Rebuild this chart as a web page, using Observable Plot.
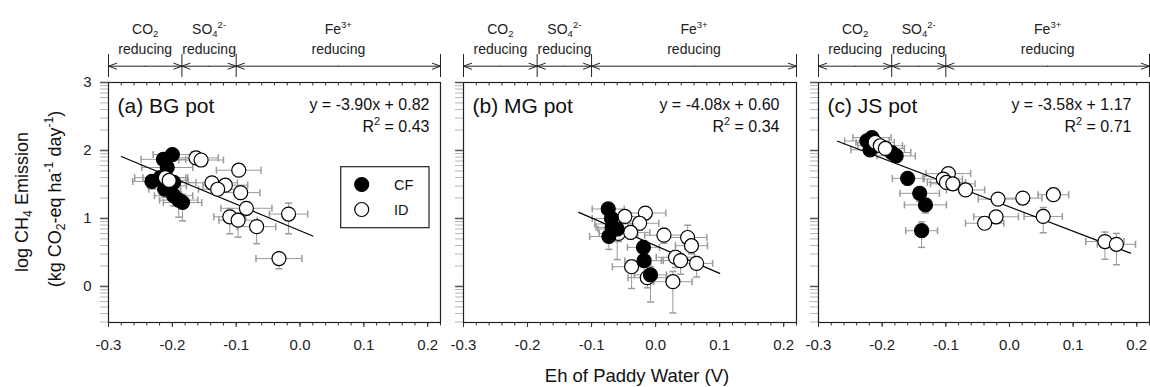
<!DOCTYPE html>
<html><head><meta charset="utf-8">
<script src="https://cdn.jsdelivr.net/npm/d3@7"></script>
<script src="https://cdn.jsdelivr.net/npm/@observablehq/plot@0.6"></script>
<style>
html,body{margin:0;padding:0;background:#fff;}
#chart{position:relative;width:1150px;height:387px;font-family:"Liberation Sans",Arial,sans-serif;}
#chart svg{position:absolute;top:0;overflow:visible;}
</style></head><body><div id="chart"></div>
<script>
// ---------- data ----------
const xTicks = [-0.3, -0.2, -0.1, 0, 0.1, 0.2];
const yTicks = [0, 1, 2, 3];
const xDomain = [-0.3, 0.22];
const yDomain = [-0.53, 3];
const zoneBounds = [-0.3, -0.185, -0.1, 0.22];
const zoneNames = ["CO_{2}", "SO_{4}^{2-}", "Fe^{3+}"];
const zoneSub = "reducing";
const panelLabels = ["(a) BG pot", "(b) MG pot", "(c) JS pot"];
const fitSlopes = [-3.90, -4.08, -3.58];
const fitIntercepts = [0.82, 0.60, 1.17];
const fitR2 = [0.43, 0.34, 0.71];
const fitXStart = [-0.28, -0.12, -0.27];
const fitXEnd = [0.02, 0.10, 0.19];
const legendNames = ["CF", "ID"];
const xTitle = "Eh of Paddy Water (V)";
const yTitle1 = "log CH_{4} Emission";
const yTitle2 = "(kg CO_{2}-eq ha^{-1} day^{-1})";

// [Eh, logCH4, Eh error, upper error, lower error]
const bgCF = [
  [-0.200, 1.94, 0.030, 0.05, 0.07],
  [-0.214, 1.87, 0.035, 0.06, 0.08],
  [-0.208, 1.75, 0.040, 0.08, 0.10],
  [-0.219, 1.60, 0.040, 0.08, 0.10],
  [-0.232, 1.545, 0.030, 0.08, 0.10],
  [-0.198, 1.53, 0.035, 0.08, 0.10],
  [-0.208, 1.48, 0.030, 0.10, 0.12],
  [-0.212, 1.43, 0.025, 0.08, 0.12],
  [-0.198, 1.335, 0.030, 0.10, 0.15],
  [-0.190, 1.27, 0.030, 0.12, 0.25],
  [-0.184, 1.235, 0.030, 0.12, 0.27]
];
const bgID = [
  [-0.211, 1.60, 0.035, 0.08, 0.10],
  [-0.205, 1.56, 0.030, 0.08, 0.10],
  [-0.163, 1.89, 0.035, 0.05, 0.06],
  [-0.155, 1.86, 0.035, 0.05, 0.06],
  [-0.096, 1.71, 0.035, 0.07, 0.09],
  [-0.138, 1.525, 0.040, 0.08, 0.09],
  [-0.117, 1.49, 0.035, 0.07, 0.08],
  [-0.129, 1.43, 0.030, 0.06, 0.08],
  [-0.093, 1.38, 0.030, 0.07, 0.10],
  [-0.084, 1.15, 0.040, 0.08, 0.10],
  [-0.018, 1.065, 0.030, 0.16, 0.29],
  [-0.110, 1.025, 0.025, 0.12, 0.25],
  [-0.097, 0.975, 0.030, 0.10, 0.25],
  [-0.068, 0.88, 0.030, 0.08, 0.25],
  [-0.033, 0.41, 0.036, 0.05, 0.15]
];
const mgCF = [
  [-0.074, 1.14, 0.025, 0.06, 0.10],
  [-0.069, 1.00, 0.030, 0.08, 0.12],
  [-0.068, 0.87, 0.025, 0.08, 0.12],
  [-0.060, 0.845, 0.030, 0.10, 0.45],
  [-0.073, 0.735, 0.030, 0.10, 0.19],
  [-0.019, 0.575, 0.025, 0.10, 0.20],
  [-0.018, 0.38, 0.030, 0.12, 0.25],
  [-0.008, 0.17, 0.025, 0.12, 0.40]
];
const mgID = [
  [-0.065, 0.92, 0.030, 0.08, 0.12],
  [-0.058, 0.78, 0.030, 0.08, 0.12],
  [-0.048, 1.03, 0.030, 0.06, 0.10],
  [-0.016, 1.08, 0.032, 0.08, 0.10],
  [-0.025, 0.93, 0.030, 0.08, 0.10],
  [-0.039, 0.795, 0.030, 0.08, 0.10],
  [0.013, 0.755, 0.030, 0.10, 0.12],
  [0.050, 0.72, 0.030, 0.18, 0.12],
  [0.056, 0.60, 0.025, 0.10, 0.12],
  [0.031, 0.43, 0.030, 0.10, 0.15],
  [0.039, 0.38, 0.030, 0.10, 0.20],
  [0.064, 0.34, 0.025, 0.10, 0.20],
  [-0.0375, 0.29, 0.030, 0.10, 0.32],
  [0.027, 0.07, 0.030, 0.15, 0.46],
  [-0.013, 0.13, 0.030, 0.08, 0.15]
];
const jsCF = [
  [-0.216, 2.19, 0.030, 0.05, 0.06],
  [-0.224, 2.14, 0.035, 0.05, 0.07],
  [-0.219, 2.01, 0.030, 0.06, 0.08],
  [-0.185, 1.97, 0.030, 0.05, 0.07],
  [-0.178, 1.92, 0.030, 0.06, 0.08],
  [-0.160, 1.59, 0.024, 0.06, 0.10],
  [-0.141, 1.37, 0.031, 0.08, 0.12],
  [-0.132, 1.20, 0.033, 0.08, 0.12],
  [-0.138, 0.82, 0.025, 0.13, 0.245]
];
const jsID = [
  [-0.211, 2.12, 0.030, 0.05, 0.07],
  [-0.203, 2.07, 0.035, 0.05, 0.07],
  [-0.195, 2.03, 0.030, 0.05, 0.07],
  [-0.096, 1.66, 0.035, 0.06, 0.08],
  [-0.104, 1.58, 0.030, 0.07, 0.09],
  [-0.099, 1.53, 0.030, 0.07, 0.09],
  [-0.089, 1.51, 0.035, 0.07, 0.09],
  [-0.069, 1.42, 0.030, 0.06, 0.08],
  [-0.018, 1.285, 0.031, 0.07, 0.09],
  [0.021, 1.30, 0.030, 0.06, 0.08],
  [-0.021, 1.025, 0.035, 0.07, 0.10],
  [-0.039, 0.93, 0.030, 0.06, 0.08],
  [0.069, 1.35, 0.024, 0.05, 0.06],
  [0.053, 1.03, 0.030, 0.13, 0.24],
  [0.150, 0.66, 0.030, 0.14, 0.26],
  [0.168, 0.62, 0.030, 0.16, 0.30]
];
const panelData = [[bgCF, bgID], [mgCF, mgID], [jsCF, jsID]];

// ---------- layout ----------
const FONT = '"Liberation Sans", Arial, sans-serif';
const H = 387, MT = 82, MB = 65, innerH = H - MT - MB;
const PW = [450, 355, 345], PL = [0, 450, 805], PML = [108, 13, 13], PMR = [10, 9, 1];
const eqDx = [-11, -17, -18];
const ERR = "#9a9a9a";

const xMinor = d3.range(0, 27).map(i => +(-0.3 + i * 0.02).toFixed(2));
const yMinor = [];
for (let n = -1; n <= 2; n++) for (let k = 2; k <= 9; k++) {
  const v = n + Math.log10(k);
  if (v >= yDomain[0] && v <= yDomain[1]) yMinor.push(v);
}
const capV = {draw(ctx, size) { const r = Math.sqrt(size / Math.PI); ctx.moveTo(0, -r); ctx.lineTo(0, r); }};
const capH = {draw(ctx, size) { const r = Math.sqrt(size / Math.PI); ctx.moveTo(-r, 0); ctx.lineTo(r, 0); }};

const segs = [], zones = [];
for (let j = 0; j < 3; j++) {
  const m = (zoneBounds[j] + zoneBounds[j + 1]) / 2;
  segs.push({m, b: zoneBounds[j]}, {m, b: zoneBounds[j + 1]});
  zones.push({m, name: zoneNames[j]});
}

function errorMarks(pts) {
  return [
    Plot.ruleY(pts, {y: d => d[1], x1: d => d[0] - d[2], x2: d => d[0] + d[2], stroke: ERR, strokeWidth: 1}),
    Plot.ruleX(pts, {x: d => d[0], y1: d => d[1] - d[4], y2: d => d[1] + d[3], stroke: ERR, strokeWidth: 1}),
    Plot.dot(pts, {x: d => d[0] - d[2], y: d => d[1], symbol: capV, r: 3.5, stroke: ERR, fill: "none"}),
    Plot.dot(pts, {x: d => d[0] + d[2], y: d => d[1], symbol: capV, r: 3.5, stroke: ERR, fill: "none"}),
    Plot.dot(pts, {x: d => d[0], y: d => d[1] + d[3], symbol: capH, r: 3.5, stroke: ERR, fill: "none"}),
    Plot.dot(pts, {x: d => d[0], y: d => d[1] - d[4], symbol: capH, r: 3.5, stroke: ERR, fill: "none"})
  ];
}
function dotMarks(pts, filled) {
  return Plot.dot(pts, {x: d => d[0], y: d => d[1], r: 7, fill: filled ? "black" : "white", stroke: "black", strokeWidth: 1.2});
}

function panel(i) {
  const [cf, id] = panelData[i];
  const fit = [fitXStart[i], fitXEnd[i]].map(x => ({x, y: fitSlopes[i] * x + fitIntercepts[i]}));
  const eq = `y = ${fitSlopes[i].toFixed(2)}x + ${fitIntercepts[i].toFixed(2)}`;
  const r2 = `R^{2} = ${fitR2[i].toFixed(2)}`;
  const dots = i === 1 ? [dotMarks(id, false), dotMarks(cf, true)] : [dotMarks(cf, true), dotMarks(id, false)];
  return Plot.plot({
    width: PW[i], height: H,
    marginLeft: PML[i], marginRight: PMR[i], marginTop: MT, marginBottom: MB,
    x: {domain: xDomain, label: null},
    y: {domain: yDomain, label: null},
    style: {fontFamily: FONT, background: "transparent", overflow: "visible", color: "#111"},
    marks: [
      Plot.axisY(yMinor, {anchor: "left", tickSize: 8, stroke: "#b5b5b5", fill: "none", label: null}),
      Plot.axisY(yTicks, {anchor: "left", tickSize: 8, strokeWidth: 1.5, stroke: "#555", fill: i === 0 ? "#222" : "none",
        tickPadding: 9, fontSize: 15, label: null, tickFormat: d => String(d)}),
      Plot.axisX(xMinor, {anchor: "bottom", tickSize: 3.5, stroke: "#333", fill: "none", label: null}),
      Plot.axisX(xTicks, {anchor: "bottom", tickSize: 5, tickPadding: 12, fontSize: 15, stroke: "#333", fill: "#222",
        label: null, tickFormat: d => d.toFixed(1)}),
      Plot.ruleX(xMinor, {x: d => d, insetBottom: innerH - 3.5, stroke: "#333"}),
      Plot.frame({stroke: "#222", strokeWidth: 1.2}),
      // redox zone annotation above the frame
      Plot.ruleX(zoneBounds, {x: d => d, insetTop: -28, insetBottom: innerH + 5, stroke: "#222", strokeWidth: 1}),
      Plot.arrow(segs, {x1: "m", x2: "b", y1: () => yDomain[1], y2: () => yDomain[1], dy: -16.3,
        headAngle: 40, headLength: 13, stroke: "#222", strokeWidth: 1}),
      Plot.text(zones, {x: "m", text: "name", frameAnchor: "top", dy: -53, fontSize: 14, lineAnchor: "middle", fill: "#222"}),
      Plot.text(zones, {x: "m", text: () => zoneSub, frameAnchor: "top", dy: -33, fontSize: 14, lineAnchor: "middle", fill: "#222"}),
      // data
      ...errorMarks(cf), ...errorMarks(id),
      Plot.line(fit, {x: "x", y: "y", stroke: "black", strokeWidth: 1.2}),
      ...dots,
      Plot.text([panelLabels[i]], {text: d => d, frameAnchor: "top-left", dx: 9, dy: 24, fontSize: 21, textAnchor: "start", lineAnchor: "middle", fill: "#111"}),
      Plot.text([eq], {text: d => d, frameAnchor: "top-right", dx: eqDx[i], dy: 22, fontSize: 16, textAnchor: "end", lineAnchor: "middle", fill: "#111"}),
      Plot.text([r2], {text: d => d, frameAnchor: "top-right", dx: eqDx[i], dy: 44, fontSize: 16, textAnchor: "end", lineAnchor: "middle", fill: "#111"})
    ]
  });
}

const chart = document.getElementById("chart");
for (let i = 0; i < 3; i++) {
  const svg = panel(i);
  svg.style.position = "absolute";
  svg.style.left = PL[i] + "px";
  svg.style.top = "0px";
  chart.appendChild(svg);
}

// overlay: axis titles and legend
const ov = d3.select(chart).append("svg")
  .attr("width", 1150).attr("height", 387)
  .style("left", "0px").style("pointer-events", "none")
  .style("font-family", FONT).attr("fill", "#111");
ov.append("text").attr("transform", "translate(28,202) rotate(-90)").attr("text-anchor", "middle")
  .attr("font-size", 18).text(yTitle1);
ov.append("text").attr("transform", "translate(61,199) rotate(-90)").attr("text-anchor", "middle")
  .attr("font-size", 18).text(yTitle2);
ov.append("text").attr("x", 637).attr("y", 382).attr("text-anchor", "middle").attr("font-size", 18.5).text(xTitle);
const lg = ov.append("g");
lg.append("rect").attr("x", 340.7).attr("y", 166.7).attr("width", 88.3).attr("height", 61)
  .attr("fill", "white").attr("stroke", "#222").attr("stroke-width", 1.2);
legendNames.forEach((n, j) => {
  const cy = 184.5 + j * 25;
  lg.append("circle").attr("cx", 361.7).attr("cy", cy).attr("r", 7)
    .attr("fill", j === 0 ? "black" : "white").attr("stroke", "black").attr("stroke-width", 1.2);
  lg.append("text").attr("x", 394).attr("y", cy).attr("dy", "0.35em").attr("font-size", 14.5).text(n);
});

// rich text: _{sub} and ^{sup}
const NS = "http://www.w3.org/2000/svg";
chart.querySelectorAll("text").forEach(t => {
  const s = t.textContent;
  if (!/[_^]\{/.test(s)) return;
  const fs = parseFloat(getComputedStyle(t).fontSize) || 14;
  while (t.firstChild) t.removeChild(t.firstChild);
  s.split(/([_^]\{[^}]*\})/).filter(p => p).forEach(p => {
    const ts = document.createElementNS(NS, "tspan");
    if (p.startsWith("_{")) {
      ts.textContent = p.slice(2, -1);
      ts.setAttribute("font-size", (fs * 0.68).toFixed(2));
      ts.setAttribute("baseline-shift", (-0.22 * fs).toFixed(2));
    } else if (p.startsWith("^{")) {
      ts.textContent = p.slice(2, -1);
      ts.setAttribute("font-size", (fs * 0.68).toFixed(2));
      ts.setAttribute("baseline-shift", (0.42 * fs).toFixed(2));
    } else {
      ts.textContent = p;
    }
    t.appendChild(ts);
  });
});
</script></body></html>
